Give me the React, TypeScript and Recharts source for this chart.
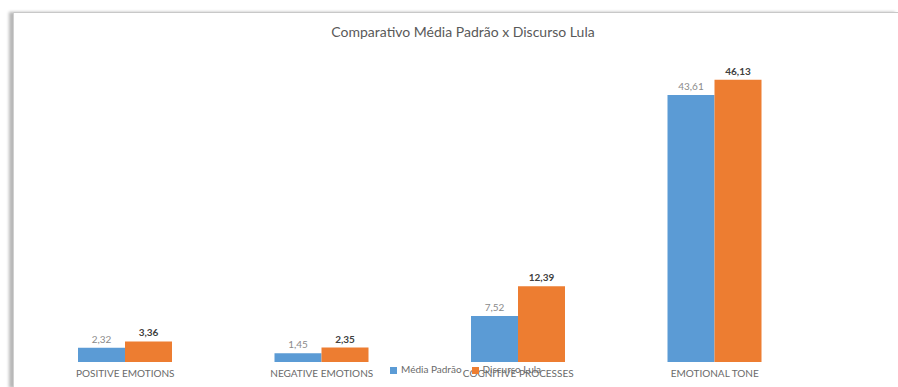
import { Bar, BarChart, LabelList, Legend, XAxis, YAxis } from "recharts";

const categories = ["POSITIVE EMOTIONS", "NEGATIVE EMOTIONS", "COGNITIVE PROCESSES", "EMOTIONAL TONE"];
const mediaPadrao = [2.32, 1.45, 7.52, 43.61];
const discursoLula = [3.36, 2.35, 12.39, 46.13];
const seriesOrder = ["media", "lula"];

const data = categories.map((name, i) => ({
  name,
  media: mediaPadrao[i],
  lula: discursoLula[i],
}));

const FONT = "Lato, 'Open Sans', sans-serif";
const fmt = (v: unknown) => Number(v).toFixed(2).replace(".", ",");

export default function App() {
  return (
    <div style={{ position: "relative", width: 898, height: 387, overflow: "hidden", background: "#fff", fontFamily: FONT }}>
      <style>{`html,body{margin:0;padding:0;overflow:hidden;background:#fff}`}</style>
      {/* frame with soft shadow on the left */}
      <div
        style={{
          position: "absolute",
          left: 13,
          top: 12,
          width: 885,
          height: 375,
          borderTop: "1px solid #c8c8c8",
          borderLeft: "1px solid #d0d0d0",
          boxShadow: "-4px 0 3px #b8b8b8",
          background: "#fff",
        }}
      />
      <div
        style={{
          position: "absolute",
          left: 28,
          width: 870,
          top: 23,
          textAlign: "center",
          fontSize: 14,
          color: "#595959",
        }}
      >
        Comparativo Média Padrão x Discurso Lula
      </div>
      <div style={{ position: "absolute", left: 0, top: 0 }}>
        <BarChart
          width={898}
          height={387}
          data={data}
          margin={{ top: 56, right: 85, left: 27, bottom: 0 }}
          barGap={0}
          barSize={47}
        >
          <XAxis
            dataKey="name"
            axisLine={false}
            tickLine={false}
            height={25}
            interval={0}
            tick={{ fill: "#6a6a6a", fontSize: 10, fontFamily: FONT }}
          />
          <YAxis hide domain={[0, 50]} width={0} />
          <Legend
            layout="horizontal"
            verticalAlign="middle"
            align="center"
            iconType="square"
            iconSize={7}
            itemSorter={(item: any) => seriesOrder.indexOf(String(item.dataKey))}
            wrapperStyle={{ position: "absolute", top: 363, left: 390, width: "auto", fontSize: 10, fontFamily: FONT }}
            formatter={(value) => <span style={{ color: "#6a6a6a" }}>{value}</span>}
          />
          <Bar dataKey="media" name="Média Padrão" fill="#5B9BD5" isAnimationActive={false}>
            <LabelList dataKey="media" position="top" offset={5} formatter={fmt} fill="#8a8a8a" fontSize={10} fontFamily={FONT} />
          </Bar>
          <Bar dataKey="lula" name="Discurso Lula" fill="#ED7D31" isAnimationActive={false}>
            <LabelList dataKey="lula" position="top" offset={5} formatter={fmt} fill="#404040" fontSize={10} fontWeight="bold" fontFamily={FONT} />
          </Bar>
        </BarChart>
      </div>
    </div>
  );
}
